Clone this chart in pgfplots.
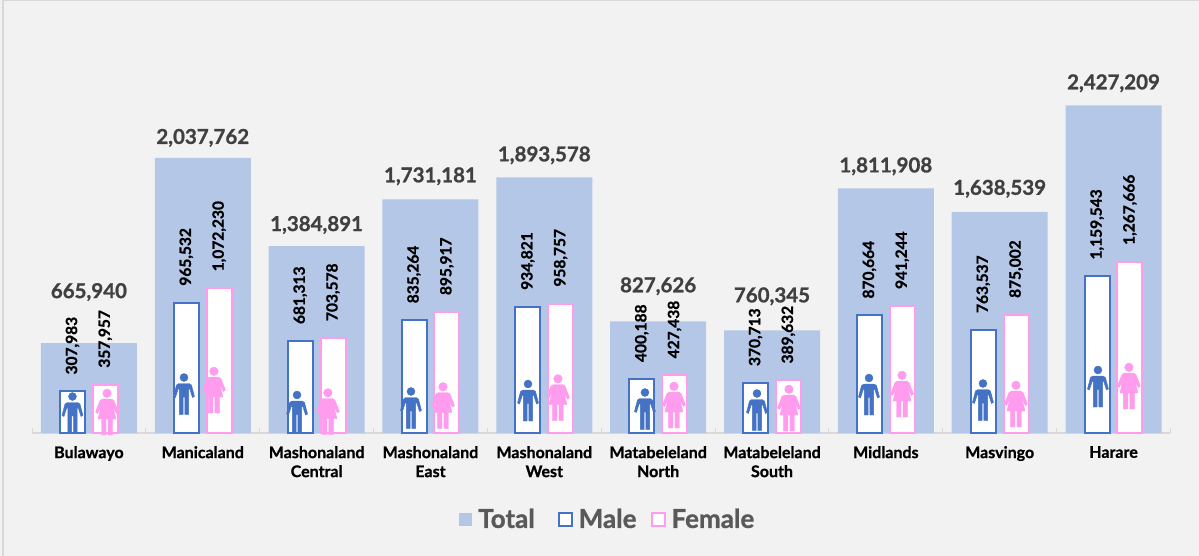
\documentclass[border=0pt]{standalone}
\usepackage{pgfplots}
\pgfplotsset{compat=1.18}
\usepackage{pgfplotstable}
\usepackage{fontspec}
\setmainfont{Lato}[BoldFeatures={FakeBold=1}]
\definecolor{bgcol}{HTML}{F2F2F2}
\definecolor{framecol}{HTML}{D9D9D9}
\definecolor{totalcol}{HTML}{B4C7E7}
\definecolor{malecol}{HTML}{4472C4}
\definecolor{femalecol}{HTML}{FF9CEE}
\definecolor{labelcol}{HTML}{404040}
\definecolor{legendcol}{HTML}{595959}

% x is the category position, gap the room between bar top and label
\pgfplotstableread{
x total male female gap
0 665940 307983 357957 45
1 2037762 965532 1072230 14
2 1384891 681313 703578 15
3 1731181 835264 895917 17
4 1893578 934821 958757 16
5 827626 400188 427438 29
6 760345 370713 389632 28
7 1811908 870664 941244 16
8 1638539 763537 875002 17
9 2427209 1159543 1267666 16
}\popdata

% where the icons stand
\pgfplotstableread{
x y
-0.1445 148148
0.835 288889
1.828 159259
2.829 185185
3.857 240741
4.884 177778
5.868 170370
6.852 285185
7.853 244444
8.863 344444
}\maleicons
\pgfplotstableread{
x y
0.159 155556
1.098 318519
2.099 159259
3.110 203704
4.120 262963
5.139 207407
6.149 185185
7.142 288889
8.143 214815
9.135 348148
}\femaleicons

\pgfdeclareplotmark{maleicon}{%
  \fill[malecol] (0pt,16.5pt) circle (4pt);
  \fill[malecol] (-5pt,10.5pt) -- (5pt,10.5pt) -- (7.5pt,9pt) -- (10.5pt,-2.5pt)
    -- (8.5pt,-3.5pt) -- (5.8pt,5pt) -- (4.6pt,5pt) -- (4.6pt,-20.5pt) -- (0.8pt,-20.5pt)
    -- (0.8pt,-3pt) -- (-0.8pt,-3pt) -- (-0.8pt,-20.5pt) -- (-4.6pt,-20.5pt) -- (-4.6pt,5pt)
    -- (-5.8pt,5pt) -- (-8.5pt,-3.5pt) -- (-10.5pt,-2.5pt) -- (-7.5pt,9pt) -- cycle;
}
\pgfdeclareplotmark{femaleicon}{%
  \fill[femalecol] (0pt,18.7pt) circle (4.3pt);
  \fill[femalecol] (-4.5pt,13pt) -- (4.5pt,13pt) -- (7pt,11.5pt) -- (11.5pt,0pt)
    -- (9.5pt,-1.5pt) -- (6pt,5pt) -- (9pt,-7pt) -- (5.5pt,-7pt) -- (5.5pt,-23pt)
    -- (1pt,-23pt) -- (1pt,-7pt) -- (-1pt,-7pt) -- (-1pt,-23pt) -- (-5.5pt,-23pt)
    -- (-5.5pt,-7pt) -- (-9pt,-7pt) -- (-6pt,5pt) -- (-9.5pt,-1.5pt) -- (-11.5pt,0pt)
    -- (-7pt,11.5pt) -- cycle;
}

\begin{document}
\begin{tikzpicture}
\useasboundingbox (0,0) rectangle (1199pt,-556pt);
\fill[bgcol] (0,0) rectangle (1199pt,-556pt);
\draw[framecol, line width=1.5pt] (3pt,0pt) -- (3pt,-556pt);
\draw[framecol, line width=1pt] (3pt,-0.5pt) -- (1199pt,-0.5pt);
\begin{axis}[
    at={(32pt,-433pt)},
    anchor=south west,
    scale only axis,
    width=1138.5pt,
    height=400pt,
    xmin=-0.5, xmax=9.5,
    ymin=0, ymax=2962963,
    clip=false,
    axis y line=none,
    axis x line*=bottom,
    x axis line style={-},
    axis line style={framecol, line width=1.5pt},
    xtick={0,...,9},
    xticklabels={Bulawayo,Manicaland,Mashonaland\\Central,Mashonaland\\East,Mashonaland\\West,
      Matabeleland\\North,Matabeleland\\South,Midlands,Masvingo,Harare},
    xticklabel style={font=\fontsize{16}{19}\selectfont\bfseries, text=black, align=center, anchor=north, yshift=-13pt, inner sep=0pt},
    major tick length=0pt,
    minor xtick={-0.5,0.5,...,9.5},
    minor tick length=5pt,
    tick style={framecol, line width=1pt},
    /pgf/number format/.cd, assume math mode=true, fixed, precision=0, 1000 sep={,},
    /pgfplots/.cd,
    legend columns=3,
    legend cell align=left,
    legend style={
      at={(0.3725,-0.215)}, anchor=west, draw=none, fill=none,
      font=\fontsize{26}{30}\selectfont\bfseries, text=legendcol,
      /tikz/every even column/.append style={column sep=18pt},
      /tikz/every odd column/.append style={column sep=4pt},
    },
  ]

  \addplot[ybar, bar width=96pt, bar shift=0pt, fill=totalcol, draw=none,
    point meta=explicit,
    visualization depends on={\thisrow{gap} \as \labelgap},
    nodes near coords,
    nodes near coords style={font=\fontsize{20.5}{24}\selectfont\bfseries, text=labelcol,
      anchor=base, inner sep=0pt, yshift=\labelgap pt},
    legend image code/.code={\fill[totalcol] (0pt,-6.5pt) rectangle (13pt,6.5pt);},
  ] table[x=x, y=total, meta=total] {\popdata};
  \addlegendentry{Total\kern3pt\null}

  \addplot[ybar, bar width=25pt, bar shift=-16.4pt, fill=white, draw=malecol, line width=2pt,
    point meta=explicit,
    nodes near coords,
    nodes near coords style={font=\fontsize{15.5}{18}\selectfont\bfseries, text=black,
      xshift=-16.4pt, yshift=16pt, rotate=90, anchor=west, inner sep=0pt},
    legend image code/.code={\draw[malecol, fill=white, line width=2pt] (0pt,-6.5pt) rectangle (13pt,6.5pt);},
  ] table[x=x, y=male, meta=male] {\popdata};
  \addlegendentry{Male\kern-6pt\null}

  \addplot[ybar, bar width=25pt, bar shift=16.4pt, fill=white, draw=femalecol, line width=2pt,
    point meta=explicit,
    nodes near coords,
    nodes near coords style={font=\fontsize{15.5}{18}\selectfont\bfseries, text=black,
      xshift=16.4pt, yshift=16pt, rotate=90, anchor=west, inner sep=0pt},
    legend image code/.code={\draw[femalecol, fill=white, line width=2pt] (0pt,-6.5pt) rectangle (13pt,6.5pt);},
  ] table[x=x, y=female, meta=female] {\popdata};
  \addlegendentry{Female}

  \addplot[only marks, mark=maleicon, forget plot] table[x=x, y=y] {\maleicons};
  \addplot[only marks, mark=femaleicon, forget plot] table[x=x, y=y] {\femaleicons};

\end{axis}
\end{tikzpicture}
\end{document}
